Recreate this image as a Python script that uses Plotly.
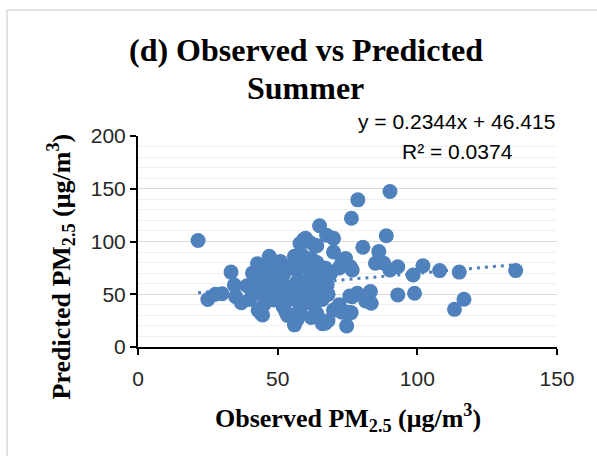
import plotly.graph_objects as go

# Observed vs predicted PM2.5 (summer)
observed = [21.5, 25.0, 27.7, 30.1, 33.3, 34.5, 35.0, 37.0,
            40, 41, 42, 42.8, 43, 44, 44.6, 45, 46, 44, 47, 47, 48, 46, 48, 48.8, 49, 50, 50, 51,
            52, 52, 53, 53.5, 54, 54, 55, 55, 56, 56, 56, 57, 57, 58, 58, 58.8, 59, 59.4, 60, 60,
            61, 61, 62, 62, 63, 63, 64, 64, 64, 65, 66, 66, 67, 67.5, 67.7, 68, 68, 69, 70, 70,
            70, 72, 72, 73, 73, 74.3, 74.7, 75, 76, 76.4, 76.7, 76.7, 78.7, 80.5, 78.5, 75.8, 83.2,
            81.5, 83.5, 85, 88, 86.2, 88.9, 90.2, 90.2, 93, 93, 98.5, 99, 102, 108, 115, 116.7,
            113.3, 135.2, 76.3,
            45, 47, 50, 52, 53, 55, 57, 58, 60, 62, 62, 63, 65, 65, 66, 67, 68, 60, 57, 41, 39, 44]
predicted = [101, 45, 50, 50.5, 71, 58.8, 47.7, 42,
             45, 70, 64, 79, 35, 32, 30.4, 40, 55, 76, 86, 78, 82, 72, 45, 44.6, 60, 50, 65, 81,
             60, 38, 33, 30, 76, 52, 30, 75, 45, 21, 86, 73, 26, 35, 98, 87, 50, 102, 42, 103,
             55, 100, 84, 28, 65, 97, 80, 32, 96, 115, 58, 22, 22.5, 106, 59, 25, 50, 70, 103, 90,
             35, 40, 75, 80, 33, 84, 20, 33, 76, 122, 47.7, 73, 139.5, 94.6, 51, 48.4, 52.5,
             43.7, 41.5, 79.4, 79.4, 90.5, 105.4, 147.4, 73, 76, 49.4, 68.3, 51, 77, 72.4, 71, 45.3,
             35.7, 72.4, 32.6,
             48, 62, 70, 68, 44, 55, 62, 48, 62, 70, 48, 40, 50, 68, 45, 75, 50, 78, 82, 52, 58, 62]

trend_slope = 0.2344
trend_intercept = 46.415
x_ticks = [0, 50, 100, 150]
y_ticks = [0, 50, 100, 150, 200]

blue = "#4f81bd"
serif = "Liberation Serif"
sans = "Liberation Sans"

xmin, xmax = min(observed), max(observed)
trend_x = [xmin, xmax]
trend_y = [trend_slope * v + trend_intercept for v in trend_x]

fig = go.Figure()
fig.add_trace(go.Scatter(x=observed, y=predicted, mode="markers",
                         marker=dict(color=blue, size=15, line=dict(width=0)),
                         showlegend=False, hoverinfo="x+y"))
fig.add_trace(go.Scatter(x=trend_x, y=trend_y, mode="lines",
                         line=dict(color=blue, width=3, dash="3px,5px"),
                         showlegend=False, hoverinfo="skip"))

L, R, T, B = 137.5, 40.3, 136.3, 109
W, H = 597, 456
pw, ph = W - L - R, H - T - B

def px(xp):
    return (xp - L) / pw

def py(yp):
    return (H - B - yp) / ph

tickfont = dict(family=sans, size=21, color="#262626")

fig.update_layout(
    width=W, height=H,
    margin=dict(l=L, r=R, t=T, b=B, pad=0),
    paper_bgcolor="white", plot_bgcolor="white",
    xaxis=dict(range=[0, 150], tickvals=x_ticks, showgrid=False, zeroline=False,
               showline=True, linecolor="black", linewidth=2,
               ticks="outside", ticklen=6, tickwidth=2, tickcolor="black",
               ticklabelstandoff=6, tickfont=tickfont),
    yaxis=dict(range=[0, 200], tickvals=y_ticks, showgrid=True, gridcolor="#d9d9d9", gridwidth=1,
               minor=dict(dtick=10, showgrid=True, gridcolor="#f0f0f0", gridwidth=1),
               zeroline=False, showline=True, linecolor="black", linewidth=2,
               ticks="outside", ticklen=6, tickwidth=2, tickcolor="black",
               tickfont=tickfont),
    annotations=[
        dict(text="<b>(d) Observed vs Predicted</b>", xref="paper", yref="paper",
             x=px(306), y=py(50), xanchor="center", yanchor="middle", showarrow=False,
             font=dict(family=serif, size=32, color="black")),
        dict(text="<b>Summer</b>", xref="paper", yref="paper",
             x=px(305), y=py(88), xanchor="center", yanchor="middle", showarrow=False,
             font=dict(family=serif, size=32, color="black")),
        dict(text="y = 0.2344x + 46.415", xref="paper", yref="paper",
             x=px(456), y=py(122), xanchor="center", yanchor="middle", showarrow=False,
             font=dict(family=sans, size=21, color="black")),
        dict(text="R² = 0.0374", xref="paper", yref="paper",
             x=px(457), y=py(152), xanchor="center", yanchor="middle", showarrow=False,
             font=dict(family=sans, size=21, color="black")),
        dict(text="<b>Observed PM<sub>2.5</sub> (μg/m<sup>3</sup>)</b>", xref="paper", yref="paper",
             x=px(348), y=py(418), xanchor="center", yanchor="middle", showarrow=False,
             font=dict(family=serif, size=26, color="black")),
        dict(text="<b>Predicted PM<sub>2.5</sub> (μg/m<sup>3</sup>)</b>", xref="paper", yref="paper",
             x=px(60), y=py(267), xanchor="center", yanchor="middle", showarrow=False,
             textangle=-90, font=dict(family=serif, size=26, color="black")),
    ],
    shapes=[dict(type="rect", xref="paper", yref="paper",
                 x0=px(6.5), y0=py(470), x1=px(620), y1=py(10.5),
                 line=dict(color="#d9d9d9", width=1.5), fillcolor="rgba(0,0,0,0)", layer="below")],
)

fig.write_html("out.html", config={"displayModeBar": False},
               post_script="document.body.style.margin='0px';")
